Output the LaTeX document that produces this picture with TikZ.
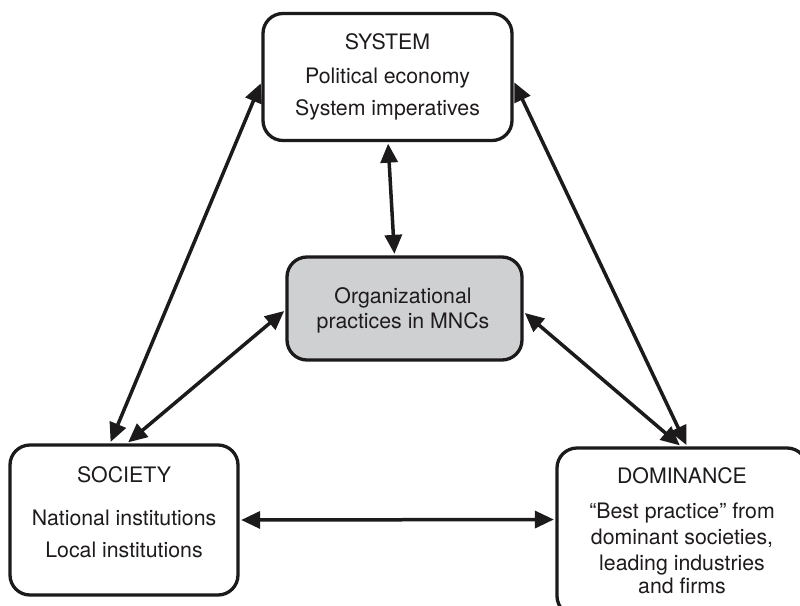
\documentclass[tikz,border=0pt]{standalone}
\usepackage{fontspec}
\setmainfont{TeX Gyre Heros}
\usetikzlibrary{arrows.meta}
\definecolor{ink}{HTML}{1C1A1A}
\definecolor{txt}{HTML}{1F1B1C}
\definecolor{mncfill}{HTML}{CFD0D2}
\begin{document}
\begin{tikzpicture}[x=1pt,y=-1pt,
  box/.style={draw=ink, line width=3.3pt, rounded corners=20pt, inner sep=0pt, fill=white},
  lbl/.style={anchor=base, inner sep=0pt, font=\fontsize{21.3}{24}\selectfont, text=txt},
  link/.style={{Triangle[length=19pt,width=17pt]}-{Triangle[length=19pt,width=17pt]}, line width=3.5pt, draw=ink, shorten <=1.5pt, shorten >=1.5pt}]
\useasboundingbox (0,0) rectangle (800,605);
\clip (0,0) rectangle (800,605);
% boxes
\node[box, minimum width=249pt, minimum height=127pt] (sys) at (387.5,77) {};
\node[box, fill=mncfill, minimum width=235pt, minimum height=103pt] (mnc) at (404.5,308.5) {};
\node[box, minimum width=228pt, minimum height=150pt] (soc) at (124,520) {};
\node[box, minimum width=250pt, minimum height=168pt] (dom) at (682,532) {};
% texts
\node[lbl] (sys1) at (387.5,49) {SYSTEM};
\node[lbl] (sys2) at (387.5,83) {Political economy};
\node[lbl] (sys3) at (387.5,115) {System imperatives};
\node[lbl] (mnc1) at (403,303) {Organizational};
\node[lbl] (mnc2) at (403,328) {practices in MNCs};
\node[lbl] (soc1) at (124,482) {SOCIETY};
\node[lbl] (soc2) at (124,525) {National institutions};
\node[lbl] (soc3) at (124,557) {Local institutions};
\node[lbl] (dom1) at (682,483) {DOMINANCE};
\node[lbl] (dom2) at (682,518) {``Best practice'' from};
\node[lbl] (dom3) at (682,544) {dominant societies,};
\node[lbl] (dom4) at (682,570) {leading industries};
\node[lbl] (dom5) at (682,593) {and firms};
% connectors
\draw[link] ([xshift=0.5pt]sys.south) -- ([xshift=-10pt]mnc.north);
\draw[link] ([yshift=-5pt]sys.west) -- ([xshift=-14pt]soc.north);
\draw[link] ([yshift=-1.5pt]mnc.west) -- ([xshift=3pt]soc.north);
\draw[link] ([yshift=-4pt]sys.east) -- ([xshift=5pt]dom.north);
\draw[link] ([yshift=-3.5pt]mnc.east) -- ([xshift=-1pt]dom.north);
\draw[link] (soc.east) -- ([yshift=12.5pt]dom.west);
\end{tikzpicture}
\end{document}
